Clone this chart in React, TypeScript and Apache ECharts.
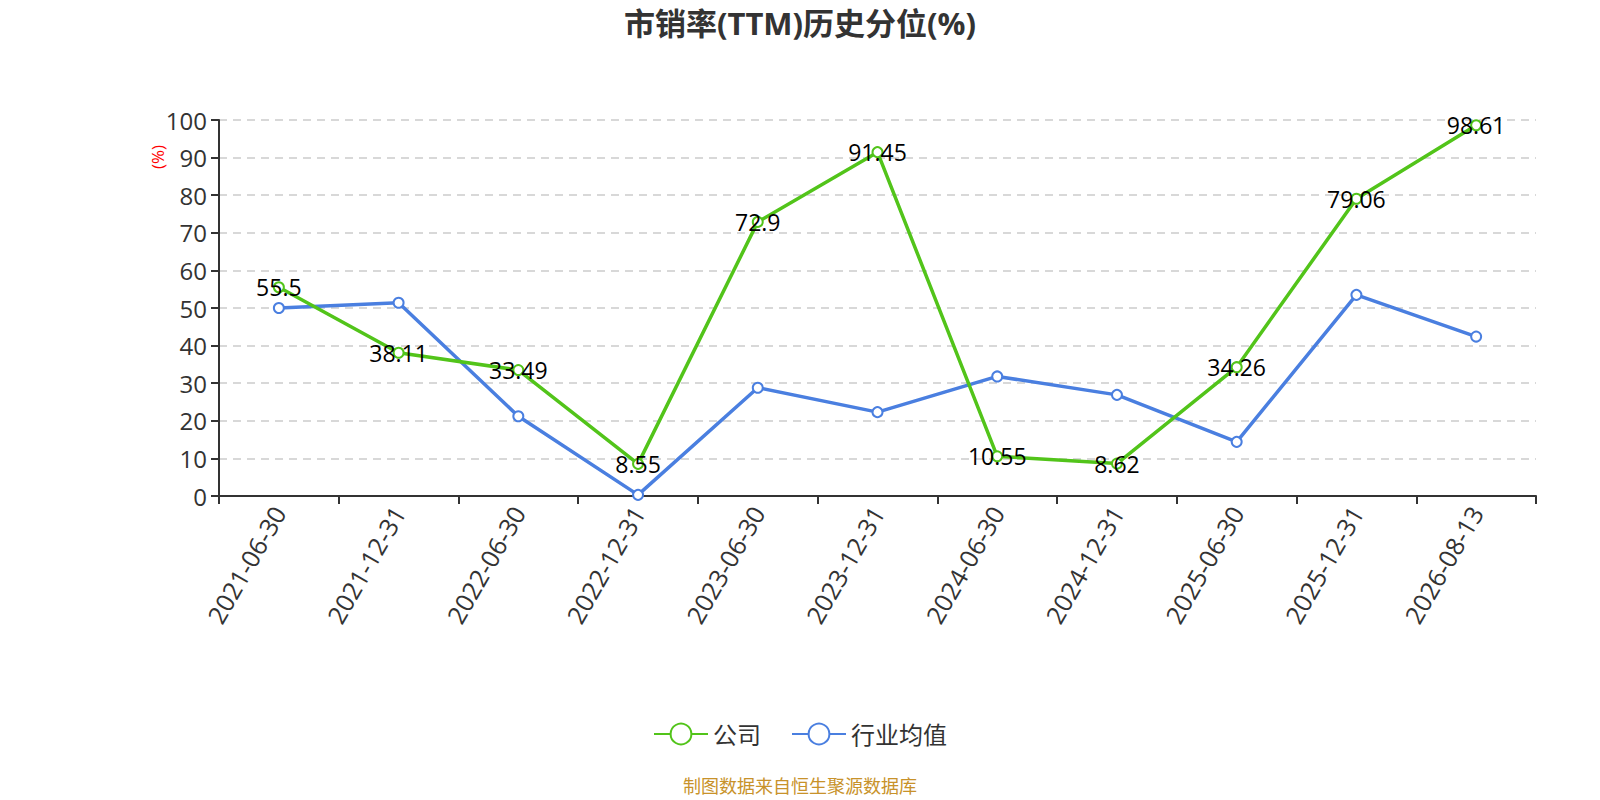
import React, { useEffect, useRef } from "react";
import * as echarts from "echarts";

const categories = [
  "2021-06-30", "2021-12-31", "2022-06-30", "2022-12-31", "2023-06-30", "2023-12-31",
  "2024-06-30", "2024-12-31", "2025-06-30", "2025-12-31", "2026-08-13",
];
const companyValues = [55.5, 38.11, 33.49, 8.55, 72.9, 91.45, 10.55, 8.62, 34.26, 79.06, 98.61];
const industryValues = [50.0, 51.4, 21.2, 0.3, 28.8, 22.3, 31.8, 26.9, 14.4, 53.5, 42.4];
const seriesNames = ["公司", "行业均值"];
const titleText = "市销率(TTM)历史分位(%)";
const footerText = "制图数据来自恒生聚源数据库";

const FONT = "'Open Sans', 'Noto Sans CJK SC', sans-serif";

export default function App() {
  const ref = useRef<HTMLDivElement>(null);
  useEffect(() => {
    if (!ref.current) return;
    const chart = echarts.init(ref.current, undefined, { renderer: "svg" });
    chart.setOption({
      animation: false,
      textStyle: { fontFamily: FONT },
      title: {
        text: titleText,
        left: "center",
        top: 2,
        textStyle: { fontSize: 31, fontWeight: "bold", color: "#333", fontFamily: FONT },
      },
      grid: { left: 219, right: 64, top: 120, bottom: 304, containLabel: false },
      legend: {
        bottom: 49,
        left: "center",
        itemWidth: 54,
        itemHeight: 26,
        itemGap: 30,
        textStyle: { fontSize: 24, color: "#333", fontFamily: FONT },
        data: seriesNames,
      },
      graphic: [
        {
          type: "text",
          x: 157,
          y: 157,
          rotation: Math.PI / 2,
          style: {
            text: "(%)",
            fill: "red",
            fontSize: 17,
            fontFamily: FONT,
            align: "center",
            verticalAlign: "middle",
          },
        },
        {
          type: "text",
          left: "center",
          top: 777,
          style: {
            text: footerText,
            fill: "#c8922a",
            fontSize: 18,
            fontFamily: FONT,
          },
        },
      ],
      xAxis: {
        type: "category",
        data: categories,
        boundaryGap: true,
        axisLine: { lineStyle: { color: "#333", width: 2 } },
        axisTick: { show: true, length: 8, lineStyle: { color: "#333", width: 2 } },
        axisLabel: { rotate: 60, fontSize: 25, color: "#333", margin: 12, interval: 0, fontFamily: FONT },
      },
      yAxis: {
        type: "value",
        min: 0,
        max: 100,
        interval: 10,
        axisLine: { show: true, lineStyle: { color: "#333", width: 2 } },
        axisTick: { show: true, length: 8, lineStyle: { color: "#333", width: 2 } },
        axisLabel: { fontSize: 24, color: "#333", margin: 12, fontFamily: FONT },
        splitLine: { show: true, lineStyle: { color: "#ccc", type: [8, 6], width: 1.5 } },
      },
      series: [
        {
          name: seriesNames[0],
          type: "line",
          data: companyValues,
          symbol: "emptyCircle",
          symbolSize: 10,
          showAllSymbol: true,
          itemStyle: { color: "#52c41a", borderWidth: 2 },
          lineStyle: { color: "#52c41a", width: 3.5 },
          label: {
            show: true,
            position: "inside",
            fontSize: 23,
            color: "#000",
            fontFamily: FONT,
          },
          z: 3,
        },
        {
          name: seriesNames[1],
          type: "line",
          data: industryValues,
          symbol: "emptyCircle",
          symbolSize: 10,
          showAllSymbol: true,
          itemStyle: { color: "#4a7fe0", borderWidth: 2 },
          lineStyle: { color: "#4a7fe0", width: 3.5 },
          z: 2,
        },
      ],
    });
    return () => chart.dispose();
  }, []);
  return (
    <div
      ref={ref}
      style={{ position: "fixed", left: 0, top: 0, width: 1600, height: 800, background: "#fff" }}
    />
  );
}
